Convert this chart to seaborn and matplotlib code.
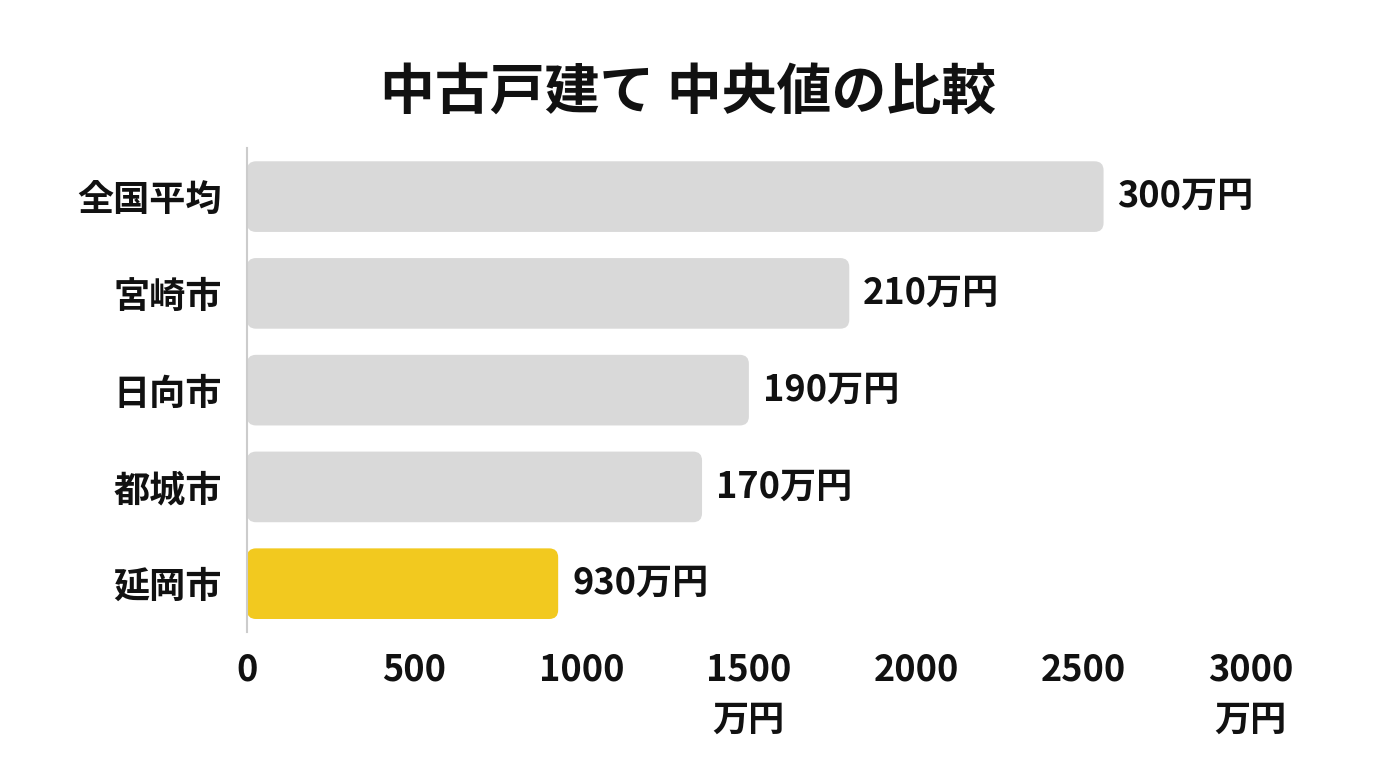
import pandas as pd
import matplotlib
matplotlib.use('Agg')
import matplotlib.pyplot as plt
import seaborn as sns
from matplotlib.patches import FancyBboxPatch

# データ
cities = ['全国平均', '宮崎市', '日向市', '都城市', '延岡市']
median_price = [2560, 1800, 1500, 1360, 930]
value_labels = ['300万円', '210万円', '190万円', '170万円', '930万円']
bar_colors = ['#d9d9d9', '#d9d9d9', '#d9d9d9', '#d9d9d9', '#f2c91f']
x_ticks = [0, 500, 1000, 1500, 2000, 2500, 3000]
x_tick_labels = ['0', '500', '1000', '1500\n万円', '2000', '2500', '3000\n万円']

sns.set_style('white')
plt.rcParams['font.family'] = ['Noto Sans CJK JP', 'DejaVu Sans']

df = pd.DataFrame({'city': cities, 'price': median_price})

fig = plt.figure(figsize=(13.76, 7.68), dpi=100)
ax = fig.add_axes([0.1795, 0.177, 0.7295, 0.63])

sns.barplot(data=df, x='price', y='city', hue='city', palette=bar_colors,
            legend=False, width=0.73, ax=ax, saturation=1)

for cont, lab in zip(ax.containers, value_labels):
    ax.bar_label(cont, labels=[lab], padding=10, fontsize=26, fontweight='semibold',
                 color='#111111')

ax.set_xlim(0, 3000)
ax.set_ylim(4.5, -0.5)

# 角丸のバーに置き換え
fig.canvas.draw()
px_x = ax.transData.transform((1, 0))[0] - ax.transData.transform((0, 0))[0]
px_y = abs(ax.transData.transform((0, 1))[1] - ax.transData.transform((0, 0))[1])
r = 9 / px_x
for p in list(ax.patches):
    x0, y0 = p.get_x(), p.get_y()
    w, h = p.get_width(), p.get_height()
    fc = p.get_facecolor()
    p.remove()
    ax.add_patch(FancyBboxPatch((x0, y0), w, h,
                                boxstyle=f'round,pad=0,rounding_size={r}',
                                mutation_aspect=px_x / px_y,
                                facecolor=fc, edgecolor='none'))

ax.set_xticks(x_ticks)
ax.set_xticklabels(x_tick_labels, fontsize=26, fontweight='semibold', linespacing=1.45)
ax.tick_params(axis='x', length=0, pad=14, colors='#111111')
ax.tick_params(axis='y', length=0, pad=18, labelsize=26, colors='#111111')
for t in ax.get_yticklabels():
    t.set_fontweight('semibold')

ax.set_xlabel('')
ax.set_ylabel('')
for s in ['top', 'right', 'bottom']:
    ax.spines[s].set_visible(False)
ax.spines['left'].set_color('#cccccc')
ax.spines['left'].set_linewidth(1.5)

fig.text(0.5, 0.88, '中古戸建て 中央値の比較', ha='center', va='center',
         fontsize=39.5, fontweight='bold', color='#111111')

fig.savefig('out.png', dpi=100, facecolor='white')
